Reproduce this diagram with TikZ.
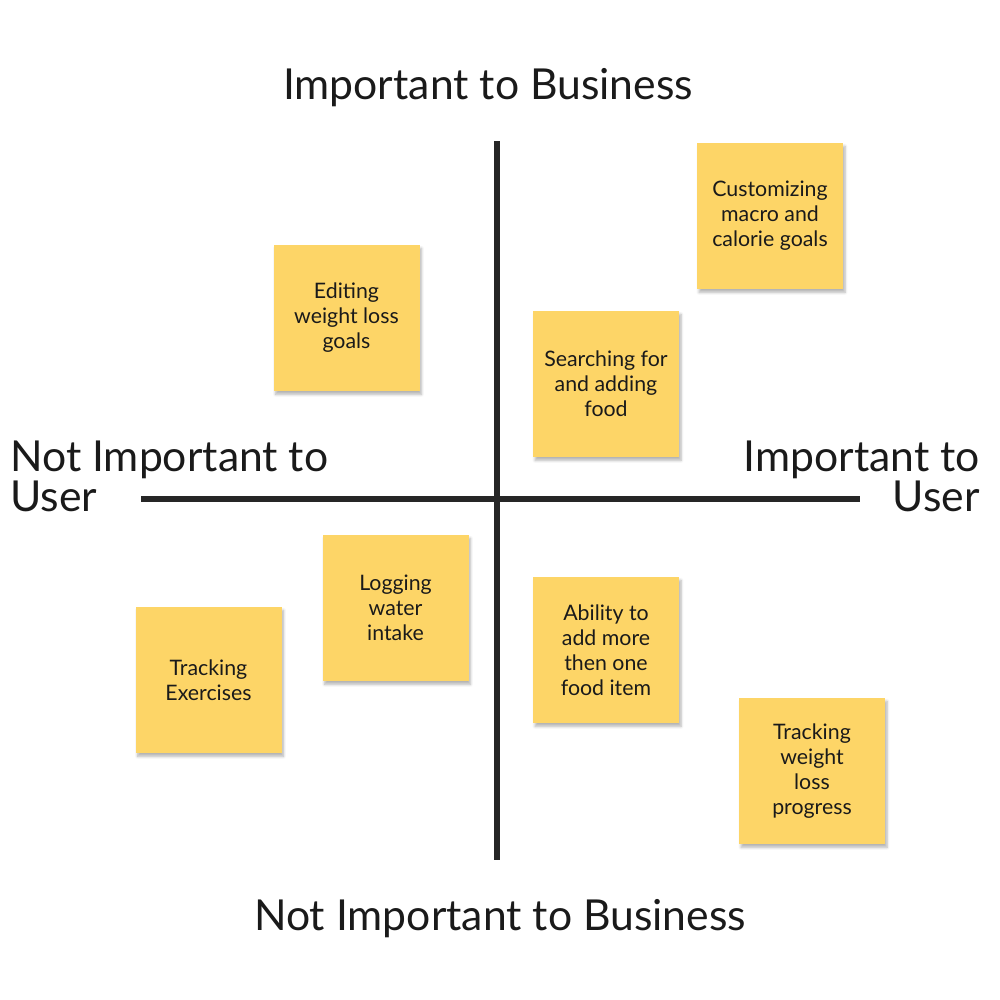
\documentclass[tikz,border=0pt]{standalone}
\usepackage{fontspec}
\setmainfont{Lato}
\usetikzlibrary{shadows.blur}
\definecolor{sticky}{HTML}{FDD567}
\definecolor{axis}{HTML}{262626}
\definecolor{ink}{HTML}{1A1A1A}
\begin{document}
\begin{tikzpicture}[x=0.75pt,y=-0.75pt,
  note/.style={fill=sticky,minimum width=109.5pt,minimum height=109.5pt,inner sep=0pt,
    align=center,text=ink,font=\fontsize{16}{18.75}\selectfont,
    blur shadow={shadow xshift=1.5pt,shadow yshift=-2.5pt,shadow blur steps=6,shadow opacity=30}},
  axisline/.style={line width=3.8pt,draw=axis},
  biglabel/.style={text=ink,font=\fontsize{32}{30}\selectfont,inner sep=0pt}]
\useasboundingbox (0,0) rectangle (1000,1000);
% axes
\coordinate (top) at (497,141);
\coordinate (bottom) at (497,860);
\coordinate (left) at (141,499);
\coordinate (right) at (860,499);
\draw[axisline] (top) -- (bottom);
\draw[axisline] (left) -- (right);
% axis labels
\node[biglabel] (tb) at (488,88) {Important to Business};
\node[biglabel] (bb) at (500,919) {Not Important to Business};
\node[biglabel,anchor=north west,align=left] (lu) at (10,441) {Not Important to\\User};
\node[biglabel,anchor=north east,align=right] (ru) at (980,441) {Important to\\User};
% sticky notes
\node[note] (n1) at (346.5,318) {Editing\\weight loss\\goals};
\node[note] (n2) at (770,216) {Customizing\\macro and\\calorie goals};
\node[note] (n3) at (606,384) {Searching for\\and adding\\food};
\node[note] (n4) at (395.5,608) {Logging\\water\\intake};
\node[note] (n5) at (208.5,680) {Tracking\\Exercises};
\node[note] (n6) at (606,650) {Ability to\\add more\\then one\\food item};
\node[note] (n7) at (812,771) {Tracking\\weight\\loss\\progress};
\end{tikzpicture}
\end{document}
